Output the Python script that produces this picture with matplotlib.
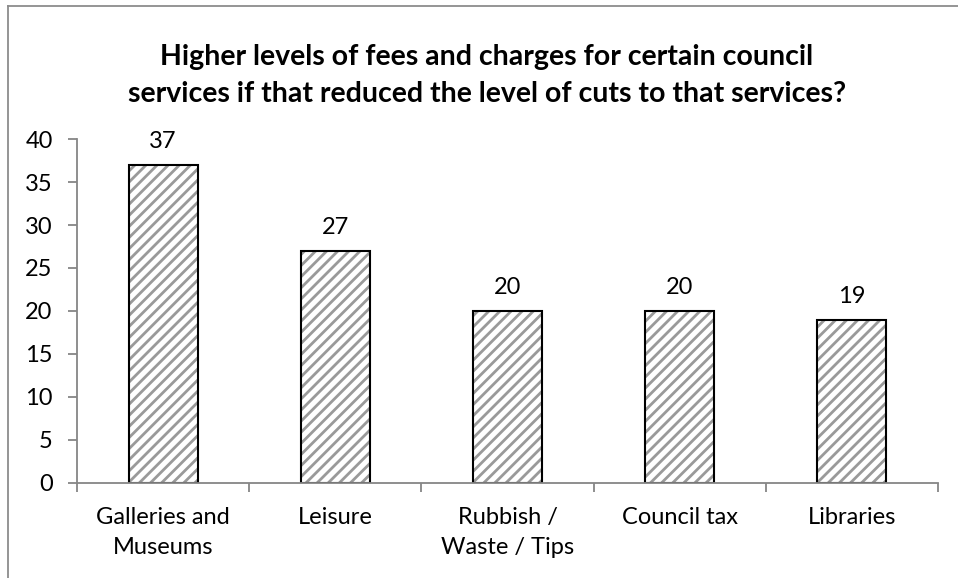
import matplotlib.pyplot as plt
from matplotlib.lines import Line2D

plt.rcParams['font.family'] = ['Lato', 'DejaVu Sans']
plt.rcParams['hatch.linewidth'] = 2.0

categories = ['Galleries and\nMuseums', 'Leisure', 'Rubbish /\nWaste / Tips', 'Council tax', 'Libraries']
values = [37, 27, 20, 20, 19]
yticks = [0, 5, 10, 15, 20, 25, 30, 35, 40]
title = ('Higher levels of fees and charges for certain council\n'
         'services if that reduced the level of cuts to that services?')

fig = plt.figure(figsize=(9.58, 5.78), dpi=100)
ax = fig.add_axes([0.0804, 0.1644, 0.8986, 0.5951])

x = range(len(categories))
# gray stripes, then black outline on top
ax.bar(x, values, width=0.4, color='white', edgecolor='#9a9a9a', linewidth=0, hatch='///')
ax.bar(x, values, width=0.4, fill=False, edgecolor='black', linewidth=1.5)

for i, v in enumerate(values):
    ax.annotate(str(v), (i, v), xytext=(0, 9), textcoords='offset points',
                ha='center', va='bottom', fontsize=17)

ax.set_xlim(-0.5, len(categories) - 0.5)
ax.set_ylim(0, 40)
ax.set_yticks(yticks)
ax.set_xticks(list(x))
ax.set_xticklabels(categories, fontsize=17, linespacing=1.55)
ax.set_xticks([i - 0.5 for i in range(len(categories) + 1)], minor=True)
ax.tick_params(axis='x', which='major', length=0, pad=17)
ax.tick_params(axis='x', which='minor', length=6.5, color='#868686', width=1.3)
ax.tick_params(axis='y', length=6.5, color='#868686', width=1.3, labelsize=17, pad=11)

for s in ['top', 'right']:
    ax.spines[s].set_visible(False)
for s in ['left', 'bottom']:
    ax.spines[s].set_color('#868686')
    ax.spines[s].set_linewidth(1.3)

fig.text(0.508, 0.869, title, ha='center', va='center', fontsize=20.5,
         fontweight='bold', linespacing=1.55)

# chart area border (top and left visible)
fig.add_artist(Line2D([0.008, 0.008], [0, 0.989], transform=fig.transFigure, color='#8c8c8c', lw=1.3))
fig.add_artist(Line2D([0.008, 1.0], [0.989, 0.989], transform=fig.transFigure, color='#8c8c8c', lw=1.3))

fig.savefig('out.png', dpi=100)
